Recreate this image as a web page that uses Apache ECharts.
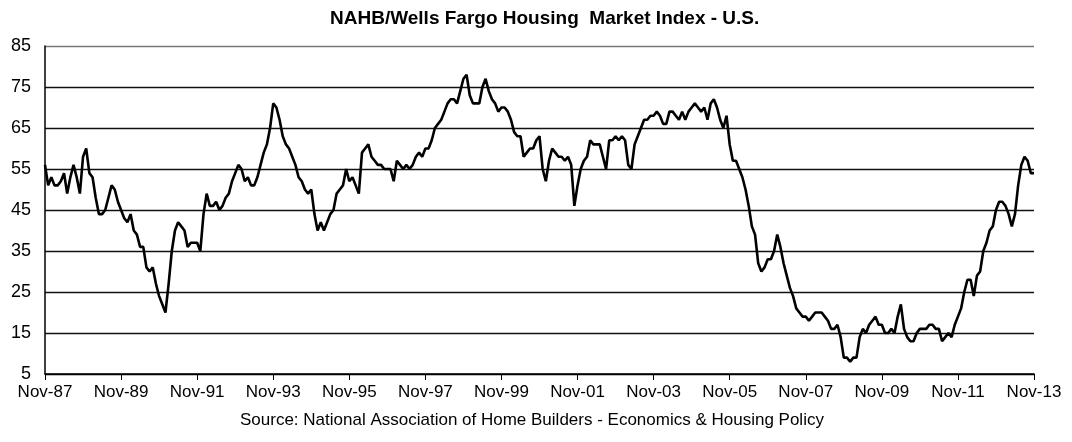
<!DOCTYPE html>
<html>
<head>
<meta charset="utf-8">
<script src="https://cdn.jsdelivr.net/npm/echarts@6/dist/echarts.min.js"></script>
<style>
  html, body { margin: 0; padding: 0; background: #fff; }
  #chart { width: 1072px; height: 442px; }
</style>
</head>
<body>
<div id="chart"></div>
<script>
// monthly index values, Nov-87 .. Nov-13
const hmiNov87toOct92 = [
  56, 51, 53, 51, 51, 52, 54, 49, 53, 56, 53, 49,
  58, 60, 54, 53, 48, 44, 44, 45, 48, 51, 50, 47,
  45, 43, 42, 44, 40, 39, 36, 36, 31, 30, 31, 27,
  24, 22, 20, 27, 35, 40, 42, 41, 40, 36, 37, 37,
  37, 35, 44, 49, 46, 46, 47, 45, 46, 48, 49, 52
];
const hmiNov92toOct97 = [
  54, 56, 55, 52, 53, 51, 51, 53, 56, 59, 61, 65,
  71, 70, 67, 63, 61, 60, 58, 56, 53, 52, 50, 49,
  50, 44, 40, 42, 40, 42, 44, 45, 49, 50, 51, 55,
  52, 53, 51, 49, 59, 60, 61, 58, 57, 56, 56, 55,
  55, 55, 52, 57, 56, 55, 56, 55, 56, 58, 59, 58
];
const hmiNov97toOct02 = [
  60, 60, 62, 65, 66, 67, 69, 71, 72, 72, 71, 74,
  77, 78, 73, 71, 71, 71, 75, 77, 74, 72, 71, 69,
  70, 70, 69, 67, 64, 63, 63, 58, 59, 60, 60, 62,
  63, 55, 52, 57, 60, 59, 58, 58, 57, 58, 56, 46,
  51, 55, 57, 58, 62, 61, 61, 61, 58, 55, 62, 62
];
const hmiNov02toOct07 = [
  63, 62, 63, 62, 56, 55, 61, 63, 65, 67, 67, 68,
  68, 69, 68, 66, 66, 69, 69, 68, 67, 69, 67, 69,
  70, 71, 70, 69, 70, 67, 71, 72, 70, 67, 65, 68,
  61, 57, 57, 55, 53, 50, 46, 41, 39, 32, 30, 31,
  33, 33, 35, 39, 36, 32, 29, 26, 24, 21, 20, 19
];
const hmiNov07toNov13 = [
  19, 18, 19, 20, 20, 20, 19, 18, 16, 16, 17, 14,
  9, 9, 8, 9, 9, 14, 16, 15, 17, 18, 19, 17,
  17, 15, 15, 16, 15, 19, 22, 16, 14, 13, 13, 15,
  16, 16, 16, 17, 17, 16, 16, 13, 14, 15, 14, 17,
  19, 21, 25, 28, 28, 24, 29, 30, 35, 37, 40, 41,
  45, 47, 47, 46, 44, 41, 44, 51, 56, 58, 57, 54, 54
];
const hmiValues = [].concat(hmiNov87toOct92, hmiNov92toOct97, hmiNov97toOct02, hmiNov02toOct07, hmiNov07toNov13);

const monthNames = ['Jan', 'Feb', 'Mar', 'Apr', 'May', 'Jun', 'Jul', 'Aug', 'Sep', 'Oct', 'Nov', 'Dec'];
const startYear = 1987;
const startMonth = 10; // Nov
const yTicks = [5, 15, 25, 35, 45, 55, 65, 75, 85];

const categories = hmiValues.map(function (v, i) {
  const m = startMonth + i;
  const yr = startYear + Math.floor(m / 12);
  return monthNames[m % 12] + '-' + String(yr % 100).padStart(2, '0');
});

const font = '"Liberation Sans", Arial, sans-serif';

const option = {
  animation: false,
  backgroundColor: '#fff',
  grid: { left: 45, right: 38, top: 46, bottom: 68, containLabel: false },
  graphic: [
    {
      type: 'text', left: 330, top: 9,
      style: { text: 'NAHB/Wells Fargo Housing  Market Index - U.S.', font: 'bold 19px ' + font, fill: '#000' }
    },
    {
      type: 'text', left: 240, top: 412,
      style: { text: 'Source: National Association of Home Builders - Economics & Housing Policy', font: '17px ' + font, fill: '#000' }
    }
  ],
  xAxis: {
    type: 'category',
    data: categories,
    boundaryGap: false,
    axisLine: { lineStyle: { color: '#000', width: 1.5 } },
    axisTick: { interval: 23, length: 6, lineStyle: { color: '#000' } },
    axisLabel: { interval: 23, margin: 10, color: '#000', fontSize: 17, fontFamily: font },
    splitLine: { show: false }
  },
  yAxis: {
    type: 'value',
    min: yTicks[0],
    max: yTicks[yTicks.length - 1],
    interval: 10,
    axisLine: { show: true, lineStyle: { color: '#000', width: 1.5 } },
    axisTick: { show: false },
    axisLabel: { margin: 14, color: '#000', fontSize: 18, fontFamily: font },
    splitLine: {
      lineStyle: { color: ['#000', '#111', '#111', '#111', '#111', '#111', '#111', '#111', '#777'], width: 1.3 }
    }
  },
  series: [{
    type: 'line',
    data: hmiValues,
    showSymbol: false,
    symbol: 'none',
    lineStyle: { color: '#000', width: 2.6 },
    z: 5
  }]
};

const myChart = echarts.init(document.getElementById('chart'));
myChart.setOption(option);
</script>
</body>
</html>
